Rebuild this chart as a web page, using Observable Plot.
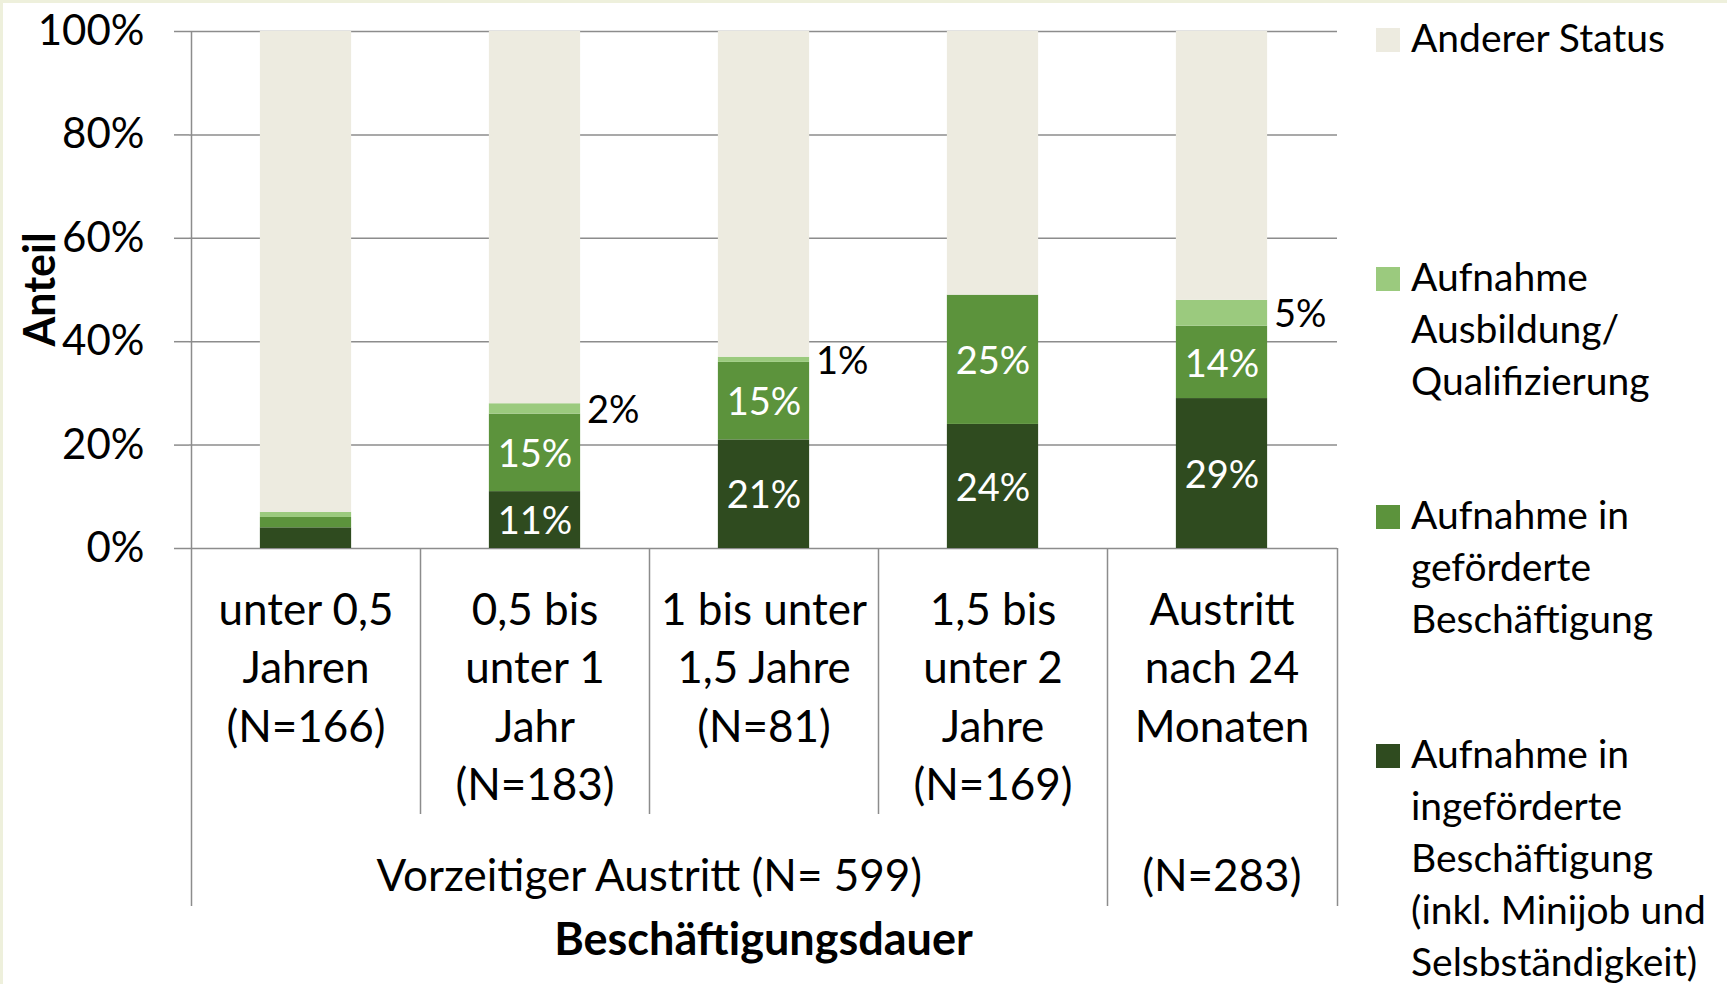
<!DOCTYPE html>
<html>
<head>
<meta charset="utf-8">
<script src="https://cdn.jsdelivr.net/npm/d3@7"></script>
<script src="https://cdn.jsdelivr.net/npm/@observablehq/plot@0.6"></script>
<style>
  html, body { margin: 0; padding: 0; background: #ffffff; }
  #wrap { position: relative; width: 1727px; height: 984px; overflow: hidden; font-family: Lato, "Open Sans", sans-serif; }
  #chart { position: absolute; left: 0; top: 0; }
  .strip { position: absolute; background: #eef0dc; }
  .item { position: absolute; left: 1376px; }
  .sw { position: absolute; left: 0; width: 24px; height: 24px; }
  .lbl { position: absolute; left: 35px; white-space: pre; font-size: 39px; line-height: 52px; color: #000; }
</style>
</head>
<body>
<div id="wrap">
  <div id="chart"></div>
  <div id="legend"></div>
  <div class="strip" style="left:0;top:0;width:3px;height:984px"></div>
  <div class="strip" style="left:0;top:0;width:1727px;height:3px"></div>
</div>
<script>
// ---- data ----
const categories = [
  "unter 0,5\nJahren\n(N=166)",
  "0,5 bis\nunter 1\nJahr\n(N=183)",
  "1 bis unter\n1,5 Jahre\n(N=81)",
  "1,5 bis\nunter 2\nJahre\n(N=169)",
  "Austritt\nnach 24\nMonaten"
];
const groups = ["Vorzeitiger Austritt (N= 599)", "(N=283)"];
const groupOf = [0, 0, 0, 0, 1];

const seriesNames = [
  "Aufnahme in\ningeförderte\nBeschäftigung\n(inkl. Minijob und\nSelsbständigkeit)",
  "Aufnahme in\ngeförderte\nBeschäftigung",
  "Aufnahme\nAusbildung/\nQualifizierung",
  "Anderer Status"
];
const seriesColors = ["#2f4b1f", "#5c933c", "#9bca7e", "#edebe0"];

const ungefoerdert  = [4, 11, 21, 24, 29];
const gefoerdert    = [2, 15, 15, 25, 14];
const ausbildung    = [1, 2, 1, 0, 5];
const andererStatus = [93, 72, 63, 51, 52];
const labelled      = [false, true, true, true, true];

const yTicks = [0, 0.2, 0.4, 0.6, 0.8, 1];
const yTitle = "Anteil";
const xTitle = "Beschäftigungsdauer";

// ---- table ----
const series = [ungefoerdert, gefoerdert, ausbildung, andererStatus];
const rows = [];
categories.forEach((c, i) => {
  let acc = 0;
  series.forEach((vals, s) => {
    const v = vals[i];
    rows.push({cat: c, i, s, value: v, y1: acc / 100, y2: (acc + v) / 100});
    acc += v;
  });
});

const gray = "#8c8c8c";
const W = 1727, H = 984, ML = 189, MR = 390, MT = 31, MB = 436;
const step = (W - ML - MR) / categories.length;
const inset = step * 0.3;

function lowerFrame(index, scales, values, dims) {
  const x = scales.x, y = scales.y;
  const st = (dims.width - dims.marginLeft - dims.marginRight) / categories.length;
  const yTop = y(1), yBase = y(0);
  const root = d3.create("svg:g");
  const lines = root.append("g").attr("stroke", gray).attr("stroke-width", 1.5);
  categories.forEach((c, i) => {
    const xl = Math.round(x(c)) + 0.5;
    const isGroupStart = i === 0 || groupOf[i] !== groupOf[i - 1];
    lines.append("line")
      .attr("x1", xl).attr("x2", xl)
      .attr("y1", i === 0 ? yTop : yBase)
      .attr("y2", yBase + (isGroupStart ? 358 : 266));
  });
  const xr = Math.round(x(categories[categories.length - 1]) + st) + 0.5;
  lines.append("line").attr("x1", xr).attr("x2", xr).attr("y1", yBase).attr("y2", yBase + 358);
  const texts = root.append("g").attr("font-family", "Lato, sans-serif").attr("font-size", 44)
    .attr("text-anchor", "middle").attr("fill", "#000");
  groups.forEach((gname, g) => {
    const idx = categories.map((c, i) => i).filter(i => groupOf[i] === g);
    const x0 = x(categories[idx[0]]);
    const x1 = x(categories[idx[idx.length - 1]]) + st;
    texts.append("text").attr("x", (x0 + x1) / 2).attr("y", yBase + 328).attr("dy", "0.35em").text(gname);
  });
  // y axis title, rotated, centred on the plot's vertical extent
  texts.append("text")
    .attr("transform", `translate(${dims.marginLeft - 149},${(yTop + yBase) / 2}) rotate(-90)`)
    .attr("dy", "0.35em").attr("font-size", 43).attr("font-weight", "bold").text(yTitle);
  return root.node();
}

const chart = Plot.plot({
  width: W, height: H,
  marginLeft: ML, marginRight: MR, marginTop: MT, marginBottom: MB,
  style: {fontFamily: "Lato, sans-serif", background: "transparent", color: "#000"},
  x: {domain: categories, padding: 0, axis: null},
  y: {domain: [0, 1]},
  color: {type: "ordinal", domain: [0, 1, 2, 3], range: seriesColors},
  marks: [
    Plot.gridY(yTicks, {stroke: gray, strokeOpacity: 1, strokeWidth: 1.5}),
    Plot.barY(rows, {x: "cat", y1: "y1", y2: "y2", fill: "s", insetLeft: inset, insetRight: inset}),
    Plot.text(rows.filter(d => labelled[d.i] && (d.s === 0 || d.s === 1)), {
      x: "cat", y: d => (d.y1 + d.y2) / 2, text: d => d.value + "%",
      fill: "white", fontSize: 38, dy: 2
    }),
    Plot.text(rows.filter(d => labelled[d.i] && d.s === 2 && d.value > 0), {
      x: "cat", y: d => (d.y1 + d.y2) / 2, text: d => d.value + "%",
      fill: "black", fontSize: 38, textAnchor: "start", dx: step * 0.2 + 6, dy: 2
    }),
    Plot.axisY(yTicks, {tickFormat: d3.format(".0%"), tickSize: 15, tickPadding: 30, fontSize: 42,
      stroke: gray, strokeWidth: 1.5, fill: "black", label: null}),
    Plot.text(categories, {x: d => d, text: d => d, frameAnchor: "bottom", lineAnchor: "top",
      dy: 35, fontSize: 44, lineHeight: 1.327, fill: "black"}),
    Plot.text([xTitle], {frameAnchor: "bottom", dy: 406, text: d => d,
      fontSize: 45, fontWeight: "bold", fill: "black"}),
    lowerFrame
  ]
});
document.getElementById("chart").appendChild(chart);

// ---- legend (top to bottom, reverse of stacking) ----
const legend = document.getElementById("legend");
const order = [3, 2, 1, 0];
order.forEach((s, k) => {
  const cy = 37 + 238.5 * k;
  const item = document.createElement("div");
  item.className = "item";
  item.style.top = (cy - 26) + "px";
  const sw = document.createElement("div");
  sw.className = "sw";
  sw.style.background = seriesColors[s];
  sw.style.top = (26 + 3 - 12) + "px";
  const lbl = document.createElement("div");
  lbl.className = "lbl";
  lbl.textContent = seriesNames[s];
  item.appendChild(sw);
  item.appendChild(lbl);
  legend.appendChild(item);
});
</script>
</body>
</html>
